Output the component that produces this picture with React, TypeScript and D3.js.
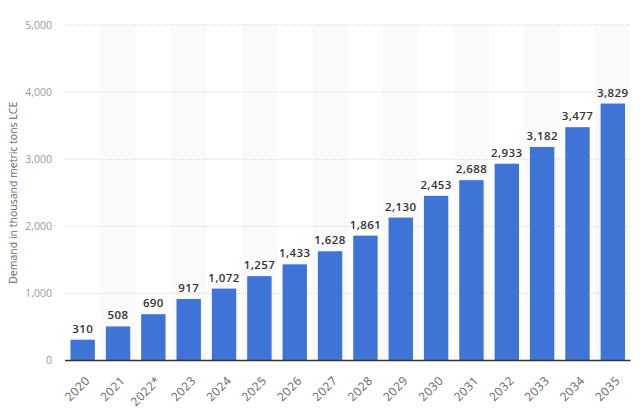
import React, { useEffect, useRef } from "react";
import * as d3 from "d3";

const years = ["2020", "2021", "2022*", "2023", "2024", "2025", "2026", "2027", "2028", "2029", "2030", "2031", "2032", "2033", "2034", "2035"];
const demand = [310, 508, 690, 917, 1072, 1257, 1433, 1628, 1861, 2130, 2453, 2688, 2933, 3182, 3477, 3829];
const yTicks = [0, 1000, 2000, 3000, 4000, 5000];

const App = () => {
  const svgRef = useRef<SVGSVGElement>(null);

  useEffect(() => {
    const width = 640, height = 419;
    const margin = { top: 25, right: 10, bottom: 58, left: 65 };
    const font = "'Open Sans', 'DejaVu Sans', sans-serif";

    const root = d3.select(svgRef.current);
    root.selectAll("*").remove();
    root.attr("width", width).attr("height", height);

    const innerW = 630.5 - margin.left;
    const innerH = 360.5 - margin.top;

    const svg = root.append("g").attr("transform", `translate(${margin.left}, ${margin.top})`);

    const x = d3.scaleBand().domain(years).range([0, innerW]).paddingInner(0.31).paddingOuter(0.155);
    const xStripe = d3.scaleBand().domain(years).range([0, innerW]).padding(0);
    const y = d3.scaleLinear().domain([0, 5000]).range([innerH, 0]);

    // stripes behind every other column
    svg.selectAll(".stripe")
      .data(years.filter((_, i) => i % 2 === 1))
      .enter()
      .append("rect")
      .attr("x", d => xStripe(d)!)
      .attr("y", 0)
      .attr("width", xStripe.bandwidth())
      .attr("height", innerH)
      .attr("fill", "#fafafa");

    // gridlines
    svg.selectAll(".grid")
      .data(yTicks.filter(t => t > 0))
      .enter()
      .append("line")
      .attr("x1", 0)
      .attr("x2", innerW)
      .attr("y1", d => y(d))
      .attr("y2", d => y(d))
      .attr("stroke", "#d9d9d9")
      .attr("stroke-width", 1)
      .attr("stroke-dasharray", "1,1");

    // y tick labels
    svg.selectAll(".ytick")
      .data(yTicks)
      .enter()
      .append("text")
      .attr("x", -13)
      .attr("y", d => y(d))
      .attr("dy", "0.35em")
      .attr("text-anchor", "end")
      .attr("fill", "#999")
      .style("font-family", font)
      .style("font-size", "10.5px")
      .text(d => d3.format(",")(d));

    // bars
    svg.selectAll(".bar")
      .data(demand)
      .enter()
      .append("rect")
      .attr("x", (d, i) => x(years[i])!)
      .attr("y", d => y(d))
      .attr("width", x.bandwidth())
      .attr("height", d => innerH - y(d))
      .attr("fill", "#3e74d6");

    // value labels
    svg.selectAll(".val")
      .data(demand)
      .enter()
      .append("text")
      .attr("x", (d, i) => x(years[i])! + x.bandwidth() / 2)
      .attr("y", d => y(d) - 7)
      .attr("text-anchor", "middle")
      .attr("fill", "#333")
      .style("font-family", font)
      .style("font-size", "11.5px")
      .style("font-weight", "600")
      .style("letter-spacing", "0.4px")
      .text(d => d3.format(",")(d));

    // baseline
    svg.append("line")
      .attr("x1", 0)
      .attr("x2", innerW)
      .attr("y1", innerH)
      .attr("y2", innerH)
      .attr("stroke", "#333")
      .attr("stroke-width", 1.5);

    // x labels, rotated
    svg.selectAll(".xtick")
      .data(years)
      .enter()
      .append("text")
      .attr("transform", d => `translate(${x(d)! + x.bandwidth() / 2 + 5}, ${innerH + 18}) rotate(-45)`)
      .attr("text-anchor", "end")
      .attr("dy", "0.35em")
      .attr("fill", "#666")
      .style("font-family", font)
      .style("font-size", "12px")
      .style("letter-spacing", "0.4px")
      .text(d => d);

    // y axis title
    root.append("text")
      .attr("transform", `translate(17, ${margin.top + innerH / 2}) rotate(-90)`)
      .attr("text-anchor", "middle")
      .attr("fill", "#666")
      .style("font-family", font)
      .style("font-size", "10.5px")
      .text("Demand in thousand metric tons LCE");
  }, []);

  return <svg ref={svgRef} style={{ position: "absolute", left: 0, top: 0 }} />;
};

export default App;
